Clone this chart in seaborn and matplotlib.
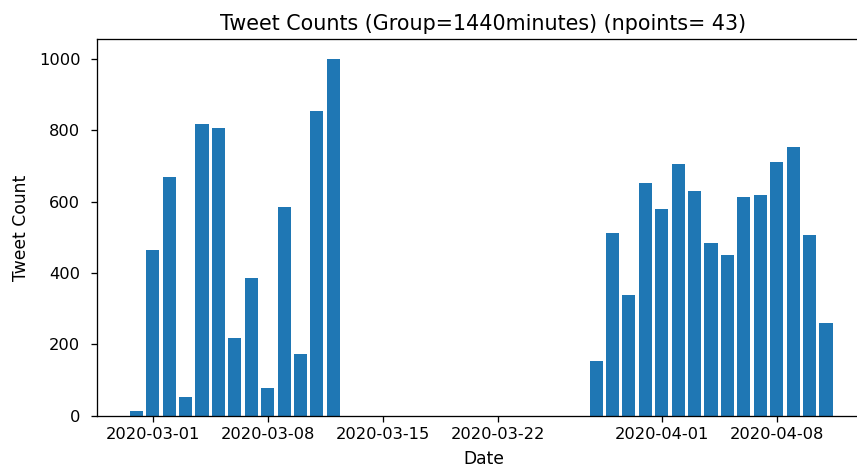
import numpy as np
import pandas as pd
import matplotlib
matplotlib.use("Agg")
import matplotlib.pyplot as plt
import matplotlib.dates as mdates
import seaborn as sns

# Daily tweet counts (one bin per 1440 minutes)
start_date = "2020-02-29"
end_date = "2020-04-11"
counts_early = [13, 463, 670, 52, 817, 806, 217, 386, 77, 584, 173, 855, 1001]
counts_gap = [0] * 15
counts_late = [154, 512, 337, 653, 580, 705, 629, 483, 449, 614, 619, 711, 754, 507, 260]

dates = pd.date_range(start_date, end_date, freq="D")
counts = counts_early + counts_gap + counts_late
df = pd.DataFrame({"Date": dates, "Tweet Count": counts})

DPI = 117
fig = plt.figure(figsize=(857 / DPI, 467 / DPI), dpi=DPI)
ax = fig.add_axes([96.7 / 857, (467 - 415.5) / 467, 773.3 / 857, 376.2 / 467])

sns.barplot(data=df, x="Date", y="Tweet Count", native_scale=True,
            color="#1f77b4", saturation=1, errorbar=None, width=0.8, ax=ax)

ref = mdates.date2num(pd.Timestamp("2020-03-01"))
ax.set_xlim(ref - 3.41, ref + 43.68)
ax.set_ylim(0, 1055)
ax.xaxis.set_major_locator(mdates.AutoDateLocator())
ax.xaxis.set_major_formatter(mdates.DateFormatter("%Y-%m-%d"))
ax.tick_params(axis="y", pad=6.6)
ax.set_xlabel("Date", fontsize=10.5, labelpad=5)
ax.set_ylabel("Tweet Count", fontsize=10.5, labelpad=5.5)
ax.set_title(f"Tweet Counts (Group=1440minutes) (npoints= {len(counts)})", fontsize=12.7)

fig.savefig("out.png", dpi=DPI)
